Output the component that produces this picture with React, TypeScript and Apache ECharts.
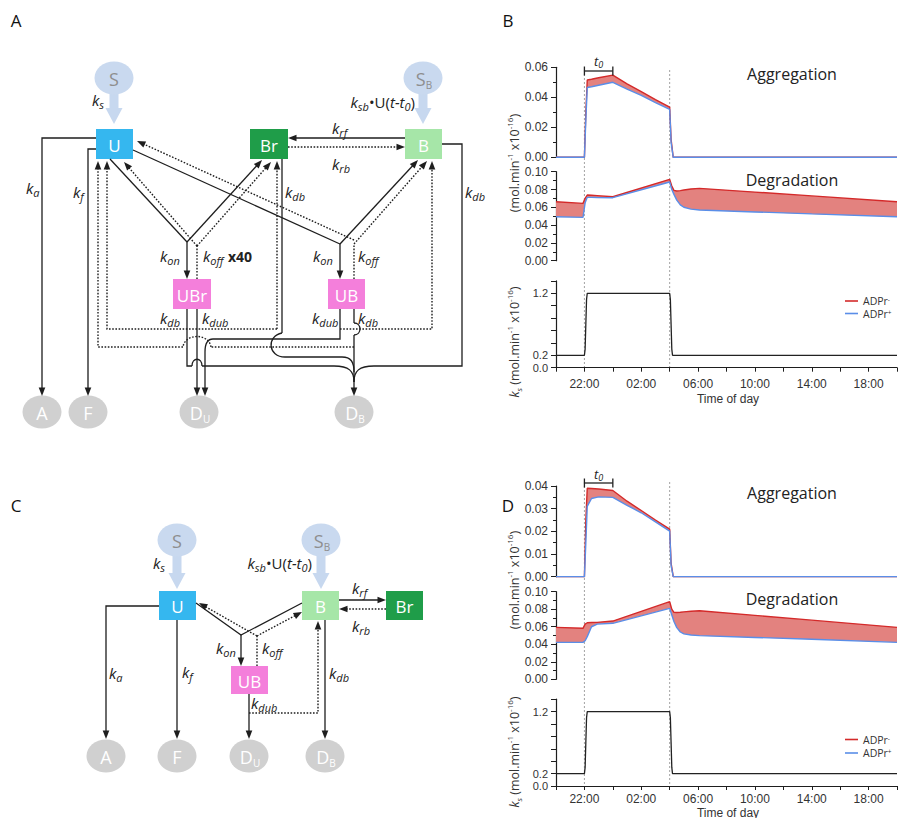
import React, { useEffect, useRef } from 'react';
import * as echarts from 'echarts';

// ---------- data ----------
// time axis: hours since 20:00
const X_MIN = 0;
const X_MAX = 24;
const X_STEP = 2;
const TICK_HOURS = [2, 6, 10, 14, 18, 22];
const TICK_LABELS = ['22:00', '02:00', '06:00', '10:00', '14:00', '18:00'];
const MARK_HOURS = [2, 8]; // dotted markers at 22:00 and 04:00
const T0_HOURS = [2, 4];

const AGG_HOURS = [0, 2, 2.1, 2.2, 2.5, 3, 4, 5, 6, 7, 8, 8.1, 8.25, 24];
const AGG_B_MINUS = [0, 0, 0.03, 0.0515, 0.052, 0.053, 0.0548, 0.049, 0.0438, 0.0385, 0.0335, 0.012, 0, 0];
const AGG_B_PLUS = [0, 0, 0.025, 0.0465, 0.047, 0.048, 0.05, 0.0455, 0.0413, 0.0365, 0.032, 0.01, 0, 0];
const AGG_D_MINUS = [0, 0, 0.025, 0.039, 0.0389, 0.0387, 0.038, 0.0333, 0.0292, 0.025, 0.021, 0.006, 0, 0];
const AGG_D_PLUS = [0, 0, 0.015, 0.031, 0.0345, 0.0352, 0.035, 0.0315, 0.0282, 0.0242, 0.0201, 0.005, 0, 0];

const DEG_HOURS = [0, 1.9, 2.05, 2.2, 2.5, 2.9, 4, 8, 8.15, 8.3, 8.5, 8.75, 9, 9.5, 10.1, 14, 18, 24];
const DEG_B_MINUS = [0.0663, 0.0644, 0.07, 0.0738, 0.0735, 0.0731, 0.0719, 0.0914, 0.084, 0.079, 0.0783, 0.0787, 0.0795, 0.0805, 0.0813, 0.0771, 0.0728, 0.0663];
const DEG_B_PLUS = [0.0494, 0.0487, 0.065, 0.0712, 0.0711, 0.071, 0.0708, 0.0884, 0.08, 0.0745, 0.068, 0.0628, 0.06, 0.058, 0.0569, 0.0548, 0.0526, 0.0494];
const DEG_D_MINUS = [0.0593, 0.0582, 0.063, 0.0646, 0.0648, 0.065, 0.0665, 0.0886, 0.08, 0.0765, 0.0762, 0.0765, 0.077, 0.0777, 0.0783, 0.073, 0.0675, 0.0593];
const DEG_D_PLUS = [0.0422, 0.0422, 0.044, 0.0487, 0.06, 0.063, 0.0639, 0.081, 0.0735, 0.066, 0.059, 0.054, 0.0518, 0.0505, 0.0498, 0.0478, 0.0458, 0.0422];

const KS_HOURS = [0, 2, 2.05, 2.1, 2.15, 2.2, 8, 8.05, 8.1, 8.15, 8.2, 24];
const KS_VALUES = [0.2, 0.2, 0.3, 0.7, 1.1, 1.2, 1.2, 1.1, 0.7, 0.3, 0.2, 0.2];

const Y_MAX = [0.06, 0.1, 1.4, 0.04, 0.1, 1.4];
const Y_STEP = [0.02, 0.02, 0.2, 0.01, 0.02, 0.2];
const KS_LABELS = [0, 0.2, 1.2];

// ---------- styles ----------
const FONT = '"Open Sans", "Noto Sans", "DejaVu Sans", sans-serif';
const TICK_FONT = '"Liberation Sans", Arial, sans-serif';
const RED = '#d42a2a';
const BLUE = '#5a8ee8';
const FILL = '#e3827f';
const LC = '#1e1e1e';
const GRIDS = [
  { left: 556, width: 341, top: 67.3, height: 90 },
  { left: 556, width: 341, top: 171.7, height: 89 },
  { left: 556, width: 341, top: 280.9, height: 86.8 },
  { left: 556, width: 341, top: 486, height: 90.7 },
  { left: 556, width: 341, top: 591.7, height: 87.6 },
  { left: 556, width: 341, top: 699.2, height: 86.8 },
];

type Pt = [number, number];

const RK: any = {
  k: { fontSize: 15, fontStyle: 'italic', fontFamily: FONT, fill: '#222', color: '#222', lineHeight: 20 },
  s: { fontSize: 11, fontStyle: 'italic', fontFamily: FONT, fill: '#222', color: '#222', lineHeight: 11, verticalAlign: 'bottom' },
  n: { fontSize: 15, fontFamily: FONT, fill: '#222', color: '#222', lineHeight: 20 },
  i: { fontSize: 15, fontStyle: 'italic', fontFamily: FONT, fill: '#222', color: '#222', lineHeight: 20 },
};

function buildStatic(): any[] {
  const els: any[] = [];
  const stroke = (dotted: boolean) => ({
    stroke: LC,
    lineWidth: dotted ? 1.4 : 1.3,
    fill: null,
    lineDash: dotted ? [1.6, 1.6] : null,
  });
  const line = (pts: Pt[], dotted = false, arrow = false) => {
    const p = pts.map((q) => [q[0], q[1]]);
    if (arrow) {
      const n = p.length;
      const [fx, fy] = p[n - 2];
      const [tx, ty] = p[n - 1];
      const dx = tx - fx, dy = ty - fy;
      const L = Math.hypot(dx, dy);
      const ux = dx / L, uy = dy / L;
      const size = 8.5, w = 3.3;
      const bx = tx - ux * size, by = ty - uy * size;
      els.push({
        type: 'polygon', silent: true, z: 5,
        shape: { points: [[tx, ty], [bx - uy * w, by + ux * w], [bx + uy * w, by - ux * w]] },
        style: { fill: LC },
      });
      p[n - 1] = [tx - ux * (size - 1), ty - uy * (size - 1)];
    }
    els.push({ type: 'polyline', silent: true, z: 4, shape: { points: p }, style: stroke(dotted) });
  };
  const curve = (x1: number, y1: number, c1x: number, c1y: number, c2x: number, c2y: number, x2: number, y2: number, dotted = false) =>
    els.push({
      type: 'bezierCurve', silent: true, z: 4,
      shape: { x1, y1, cpx1: c1x, cpy1: c1y, cpx2: c2x, cpy2: c2y, x2, y2 },
      style: stroke(dotted),
    });
  const text = (x: number, y: number, t: string, o: any = {}) =>
    els.push({
      type: 'text', silent: true, z: 6, x, y, rotation: o.rotation || 0,
      style: {
        text: t, fill: o.fill || '#222', fontSize: o.fontSize || 14, fontFamily: o.fontFamily || FONT,
        fontStyle: o.fontStyle || 'normal', fontWeight: o.fontWeight || 'normal',
        lineHeight: o.lineHeight, 
        align: o.align || 'center', textAlign: o.align || 'center',
        verticalAlign: 'middle', textVerticalAlign: 'middle', rich: o.rich,
      },
    });
  const k = (x: number, y: number, sub: string) => text(x, y, `{k|k}{s|${sub}}`, { align: 'left', rich: RK });
  const box = (x: number, y: number, w: number, h: number, color: string, label: string) => {
    els.push({ type: 'rect', silent: true, z: 3, shape: { x, y, width: w, height: h }, style: { fill: color } });
    text(x + w / 2, y + h / 2 + 1, label, { fontSize: 17, fill: '#ffffff' });
  };
  const node = (cx: number, cy: number, color: string, main: string, sub: string, fg: string) => {
    els.push({ type: 'ellipse', silent: true, z: 3, shape: { cx, cy, rx: 19.5, ry: 16.5 }, style: { fill: color } });
    const rich = {
      m: { fontSize: 18, fontFamily: FONT, fill: fg, color: fg, lineHeight: 22 },
      u: { fontSize: 10, fontFamily: FONT, fill: fg, color: fg, lineHeight: 10, verticalAlign: 'bottom' },
    };
    text(cx + (sub ? 1 : 0), cy + 1, sub ? `{m|${main}}{u|${sub}}` : `{m|${main}}`, { rich });
  };
  const bigArrow = (cx: number, y0: number, y2: number) => {
    const y1 = y2 - 16;
    els.push({
      type: 'polygon', silent: true, z: 2,
      shape: { points: [[cx - 4.5, y0], [cx + 4.5, y0], [cx + 4.5, y1], [cx + 8.5, y1], [cx, y2], [cx - 8.5, y1], [cx - 4.5, y1]] },
      style: { fill: '#c7d8ef' },
    });
  };
  const S_COL = '#c9d9ef', G_COL = '#d0d0d0', U_COL = '#35b7ef', BR_COL = '#1f9d49', B_COL = '#a6e6a8', UB_COL = '#f47fdb';

  // panel letters
  text(16, 20, 'A', { fontSize: 17, fill: '#111' });
  text(508, 20, 'B', { fontSize: 17, fill: '#111' });
  text(16, 505, 'C', { fontSize: 17, fill: '#111' });
  text(508, 505, 'D', { fontSize: 17, fill: '#111' });

  // ================= Panel A =================
  bigArrow(114, 90, 124);
  bigArrow(423, 90, 124);
  node(114, 78, S_COL, 'S', '', '#8e8e8e');
  node(423, 78, S_COL, 'S', 'B', '#8e8e8e');
  k(92, 100, 's');
  text(415, 102, '{k|k}{s|sb}{n|•U(}{i|t-t}{s|0}{n|)}', { align: 'right', rich: RK });

  // U -> A, U -> F
  line([[96, 138], [42, 138], [42, 396]], false, true);
  line([[96, 149], [88, 149], [88, 396]], false, true);
  k(26, 188, 'a');
  k(73, 192, 'f');

  // Br <-> B
  line([[405, 138], [288, 138]], false, true);
  line([[288, 147], [405, 147]], true, true);
  k(332, 128, 'rf');
  k(332, 164, 'rb');

  // U + Br <-> UBr
  line([[110, 159], [187, 242]]);
  line([[187, 242], [262, 160]], false, true);
  line([[197, 246], [124, 162]], true, true);
  line([[197, 246], [271, 162]], true, true);
  line([[187, 242], [187, 279]], false, true);
  line([[197, 279], [197, 246]], true);
  k(160, 256, 'on');
  k(203, 256, 'off');
  text(228, 256, 'x40', { align: 'left', fontSize: 14, fontWeight: 'bold' });

  // U + B <-> UB
  line([[133, 150], [340, 244]]);
  line([[340, 244], [418, 160]], false, true);
  line([[354, 240], [137, 141]], true, true);
  line([[354, 244], [427, 161]], true, true);
  line([[340, 244], [340, 279]], false, true);
  line([[354, 279], [354, 244]], true);
  k(313, 256, 'on');
  k(358, 256, 'off');

  // dotted release loops
  line([[277, 329], [107, 329], [107, 161]], true, true);
  line([[277, 329], [277, 161]], true, true);
  line([[340, 329], [432, 329], [432, 161]], true, true);
  line([[354, 347], [211, 347]], true);
  curve(211, 347, 209, 333, 185, 333, 183, 347, true);
  line([[183, 347], [98, 347], [98, 161]], true, true);

  // UBr degradation
  line([[197, 309], [197, 396]], false, true);
  line([[187, 309], [187, 366], [192, 366]]);
  curve(192, 366, 192, 357, 202, 357, 202, 366);
  line([[202, 366], [334, 366]]);
  curve(334, 366, 349, 366, 354, 371, 354, 382);
  k(160, 318, 'db');
  k(202, 318, 'dub');

  // UB degradation
  line([[340, 309], [340, 339], [213, 339]]);
  curve(213, 339, 207, 339, 205, 344, 205, 352);
  line([[205, 352], [205, 396]], false, true);
  line([[354, 309], [354, 323]]);
  curve(354, 323, 362, 323, 362, 335, 354, 335);
  line([[354, 335], [354, 396]], false, true);
  k(312, 318, 'dub');
  k(358, 318, 'db');

  // Br degradation
  line([[282, 159], [282, 333]]);
  curve(282, 333, 266, 336, 268, 357, 285, 357);
  line([[285, 357], [342, 357]]);
  curve(342, 357, 351, 357, 354, 362, 354, 372);
  k(285, 192, 'db');

  // B degradation
  line([[442, 144], [462, 144], [462, 366], [374, 366]]);
  curve(374, 366, 359, 366, 354, 371, 354, 382);
  k(465, 192, 'db');

  box(96, 129, 37, 30, U_COL, 'U');
  box(250, 129, 38, 30, BR_COL, 'Br');
  box(405, 129, 37, 30, B_COL, 'B');
  box(173, 279, 38, 30, UB_COL, 'UBr');
  box(328, 279, 37, 30, UB_COL, 'UB');
  node(42, 412, G_COL, 'A', '', '#ffffff');
  node(88, 412, G_COL, 'F', '', '#ffffff');
  node(199, 412, G_COL, 'D', 'U', '#ffffff');
  node(354, 412, G_COL, 'D', 'B', '#ffffff');

  // ================= Panel C =================
  bigArrow(177, 552, 589);
  bigArrow(321, 552, 589);
  node(177, 540, S_COL, 'S', '', '#8e8e8e');
  node(321, 540, S_COL, 'S', 'B', '#8e8e8e');
  k(153, 563, 's');
  text(312, 563, '{k|k}{s|sb}{n|•U(}{i|t-t}{s|0}{n|)}', { align: 'right', rich: RK });

  line([[159, 606], [106, 606], [106, 739]], false, true);
  line([[177, 620], [177, 739]], false, true);
  k(109, 673, 'a');
  k(182, 672, 'f');

  line([[196, 603], [241, 635], [302, 603]]);
  line([[257, 636], [199, 603]], true, true);
  line([[257, 636], [302, 612]], true, true);
  line([[241, 635], [241, 666]], false, true);
  line([[257, 666], [257, 636]], true);
  k(216, 648, 'on');
  k(262, 648, 'off');

  line([[339, 600], [386, 600]], false, true);
  line([[386, 609], [339, 609]], true, true);
  k(352, 588, 'rf');
  k(352, 626, 'rb');

  line([[249, 694], [249, 739]], false, true);
  line([[249, 713], [318, 713], [318, 621]], true, true);
  k(251, 703, 'dub');
  line([[325, 620], [325, 739]], false, true);
  k(329, 673, 'db');

  box(159, 591, 37, 29, U_COL, 'U');
  box(302, 591, 37, 29, B_COL, 'B');
  box(386, 591, 37, 29, BR_COL, 'Br');
  box(231, 666, 37, 28, UB_COL, 'UB');
  node(106, 756, G_COL, 'A', '', '#ffffff');
  node(177, 756, G_COL, 'F', '', '#ffffff');
  node(249, 756, G_COL, 'D', 'U', '#ffffff');
  node(325, 756, G_COL, 'D', 'B', '#ffffff');

  // ================= chart texts =================
  const RS: any = {
    n: { fontSize: 12.5, fontFamily: FONT, fill: '#333', color: '#333', lineHeight: 17 },
    i: { fontSize: 12.5, fontStyle: 'italic', fontFamily: FONT, fill: '#333', color: '#333', lineHeight: 17 },
    p: { fontSize: 8, fontFamily: FONT, fill: '#333', color: '#333', lineHeight: 9, verticalAlign: 'top' },
    d: { fontSize: 8, fontStyle: 'italic', fontFamily: FONT, fill: '#333', color: '#333', lineHeight: 9, verticalAlign: 'bottom' },
  };
  const RL: any = {
    n: { fontSize: 10.5, fontFamily: FONT, fill: '#333', color: '#333', lineHeight: 10 },
    p: { fontSize: 6.5, fontFamily: FONT, fill: '#333', color: '#333', lineHeight: 6, verticalAlign: 'top' },
  };
  const unit = '{n|(mol.min}{p|-1}{n| x10}{p|-16}{n|)}';
  const ksUnit = '{i|k}{d|s}{n| (mol.min}{p|-1}{n| x10}{p|-16}{n|)}';
  text(514, 163, unit, { rich: RS, rotation: Math.PI / 2 });
  text(514, 342, ksUnit, { rich: RS, rotation: Math.PI / 2 });
  text(514, 580, unit, { rich: RS, rotation: Math.PI / 2 });
  text(514, 752, ksUnit, { rich: RS, rotation: Math.PI / 2 });

  text(792, 74, 'Aggregation', { fontSize: 16, fill: '#222' });
  text(792, 180, 'Degradation', { fontSize: 16, fill: '#222' });
  text(792, 493, 'Aggregation', { fontSize: 16, fill: '#222' });
  text(792, 599, 'Degradation', { fontSize: 16, fill: '#222' });

  text(728, 398.5, 'Time of day', { fontSize: 12, fill: '#333', fontFamily: TICK_FONT, lineHeight: 12 });
  text(728, 812.5, 'Time of day', { fontSize: 12, fill: '#333', fontFamily: TICK_FONT, lineHeight: 12 });

  const legend = (yRed: number, yBlue: number) => {
    els.push({ type: 'line', silent: true, shape: { x1: 845, y1: yRed, x2: 858, y2: yRed }, style: { stroke: RED, lineWidth: 1.6 } });
    els.push({ type: 'line', silent: true, shape: { x1: 845, y1: yBlue, x2: 858, y2: yBlue }, style: { stroke: BLUE, lineWidth: 1.6 } });
    text(863, yRed, '{n|ADPr}{p|-}', { align: 'left', rich: RL });
    text(863, yBlue, '{n|ADPr}{p|+}', { align: 'left', rich: RL });
  };
  legend(301, 313.5);
  legend(739.5, 753);
  return els;
}

function bandSeries(gi: number, hours: number[], minus: number[], plus: number[]) {
  const common = { xAxisIndex: gi, yAxisIndex: gi, silent: true };
  return [
    {
      ...common,
      type: 'custom',
      z: 1,
      data: [[hours[0], minus[0]]],
      renderItem: (_params: any, api: any) => {
        const upper = hours.map((h, i) => api.coord([h, minus[i]]));
        const lower = hours.map((h, i) => api.coord([h, plus[i]])).reverse();
        return { type: 'polygon', shape: { points: [...upper, ...lower] }, style: { fill: FILL, stroke: null } };
      },
    },
    { ...common, type: 'line', symbol: 'none', z: 2, name: 'ADPr-', data: hours.map((h, i) => [h, minus[i]]), lineStyle: { color: RED, width: 1.4 } },
    { ...common, type: 'line', symbol: 'none', z: 3, name: 'ADPr+', data: hours.map((h, i) => [h, plus[i]]), lineStyle: { color: BLUE, width: 1.4 } },
  ];
}

function buildOption(): any {
  const xAxis = GRIDS.map((_, gi) => {
    const bottom = gi === 2 || gi === 5;
    return {
      type: 'value', gridIndex: gi, min: X_MIN, max: X_MAX, interval: X_STEP,
      show: bottom,
      axisLine: { show: true, onZero: false, lineStyle: { color: LC, width: 1.2 } },
      axisTick: { show: true, length: 4, lineStyle: { color: LC, width: 1 } },
      splitLine: { show: false },
      axisLabel: {
        color: '#333', fontSize: 12, lineHeight: 12, fontFamily: TICK_FONT, margin: gi === 2 ? 10 : 7,
        formatter: (v: number) => {
          const i = TICK_HOURS.findIndex((h) => Math.abs(h - v) < 1e-6);
          return i >= 0 ? TICK_LABELS[i] : '';
        },
      },
    };
  });
  const yAxis = GRIDS.map((_, gi) => {
    const ks = gi === 2 || gi === 5;
    return {
      type: 'value', gridIndex: gi, min: 0, max: Y_MAX[gi], interval: Y_STEP[gi],
      axisLine: { show: true, lineStyle: { color: LC, width: 1.2 } },
      axisTick: { show: true, length: 5, lineStyle: { color: LC, width: 1 } },
      minorTick: { show: !ks, splitNumber: 2, length: 3, lineStyle: { color: LC, width: 1 } },
      splitLine: { show: false },
      axisLabel: {
        color: '#333', fontSize: ks ? 11 : 12, lineHeight: ks ? 11 : 13, fontFamily: TICK_FONT, margin: 8,
        formatter: (v: number) => {
          if (ks) return KS_LABELS.some((t) => Math.abs(t - v) < 1e-6) ? v.toFixed(1) : '';
          return v.toFixed(2);
        },
      },
    };
  });
  const series: any[] = [
    ...bandSeries(0, AGG_HOURS, AGG_B_MINUS, AGG_B_PLUS),
    ...bandSeries(1, DEG_HOURS, DEG_B_MINUS, DEG_B_PLUS),
    { type: 'line', xAxisIndex: 2, yAxisIndex: 2, symbol: 'none', silent: true, data: KS_HOURS.map((h, i) => [h, KS_VALUES[i]]), lineStyle: { color: '#222', width: 1.3 } },
    ...bandSeries(3, AGG_HOURS, AGG_D_MINUS, AGG_D_PLUS),
    ...bandSeries(4, DEG_HOURS, DEG_D_MINUS, DEG_D_PLUS),
    { type: 'line', xAxisIndex: 5, yAxisIndex: 5, symbol: 'none', silent: true, data: KS_HOURS.map((h, i) => [h, KS_VALUES[i]]), lineStyle: { color: '#222', width: 1.3 } },
  ];
  return {
    animation: false,
    backgroundColor: '#ffffff',
    grid: GRIDS.map((g) => ({ ...g, containLabel: false })),
    xAxis,
    yAxis,
    series,
  };
}

export default function App() {
  const ref = useRef<HTMLDivElement>(null);
  useEffect(() => {
    document.body.style.margin = '0';
    const chart = echarts.init(ref.current!, null, { renderer: 'svg' });
    chart.setOption(buildOption());
    const els = buildStatic();
    const panels = [
      { topGrid: 0, botGrid: 2, yTop: 70, bracketY: 71, tY: 61 },
      { topGrid: 3, botGrid: 5, yTop: 482, bracketY: 483, tY: 474 },
    ];
    panels.forEach((p) => {
      MARK_HOURS.forEach((h) => {
        const pt = chart.convertToPixel({ gridIndex: p.botGrid } as any, [h, 0]) as number[];
        els.push({
          type: 'line', silent: true, z: -1,
          shape: { x1: pt[0], y1: p.yTop, x2: pt[0], y2: pt[1] },
          style: { stroke: '#8a8a8a', lineWidth: 0.8, lineDash: [2, 2] },
        });
      });
      const xa = (chart.convertToPixel({ gridIndex: p.topGrid } as any, [T0_HOURS[0], 0]) as number[])[0];
      const xb = (chart.convertToPixel({ gridIndex: p.topGrid } as any, [T0_HOURS[1], 0]) as number[])[0];
      const st = { stroke: '#222', lineWidth: 1.3 };
      els.push({ type: 'line', silent: true, z: 6, shape: { x1: xa, y1: p.bracketY, x2: xb, y2: p.bracketY }, style: st });
      els.push({ type: 'line', silent: true, z: 6, shape: { x1: xa, y1: p.bracketY - 4.5, x2: xa, y2: p.bracketY + 4.5 }, style: st });
      els.push({ type: 'line', silent: true, z: 6, shape: { x1: xb, y1: p.bracketY - 4.5, x2: xb, y2: p.bracketY + 4.5 }, style: st });
      els.push({
        type: 'text', silent: true, z: 6, x: (xa + xb) / 2, y: p.tY,
        style: {
          text: '{i|t}{d|0}', align: 'center', textAlign: 'center', verticalAlign: 'middle', textVerticalAlign: 'middle',
          rich: {
            i: { fontSize: 13, fontStyle: 'italic', fontFamily: FONT, fill: '#222', color: '#222', lineHeight: 16 },
            d: { fontSize: 9, fontStyle: 'italic', fontFamily: FONT, fill: '#222', color: '#222', lineHeight: 9, verticalAlign: 'bottom' },
          },
        },
      });
    });
    chart.setOption({ graphic: { elements: els } });
    return () => chart.dispose();
  }, []);
  return <div ref={ref} style={{ width: 900, height: 818 }} />;
}
